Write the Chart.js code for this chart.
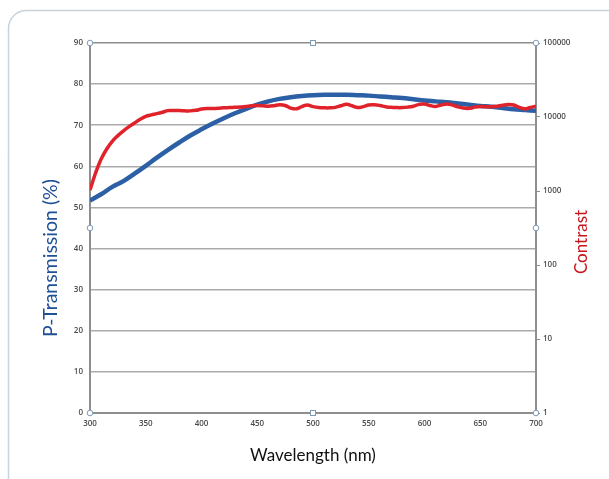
<!DOCTYPE html>
<html>
<head>
<meta charset="utf-8">
<script src="https://cdn.jsdelivr.net/npm/chart.js@4/dist/chart.umd.min.js"></script>
<style>
  html, body { margin: 0; padding: 0; background: #ffffff; }
  #wrap { position: relative; width: 609px; height: 479px; overflow: hidden; }
  canvas { display: block; }
</style>
</head>
<body>
<div id="wrap"><canvas id="c" width="609" height="479"></canvas></div>
<script>
// Wavelength grid for the P-Transmission curve (nm)
const transWavelengths = [300,310,320,330,340,350,360,370,380,390,400,410,420,430,440,450,460,470,480,490,500,510,520,530,540,550,560,570,580,590,600,610,620,630,640,650,660,670,680,690,700];
// P-Transmission (%)
const transmission = [51.7,53.2,55.0,56.4,58.2,60.1,62.1,64.0,65.8,67.5,69.0,70.4,71.7,72.9,74.0,75.0,75.8,76.4,76.8,77.1,77.3,77.4,77.4,77.4,77.3,77.2,77.0,76.8,76.6,76.3,76.0,75.8,75.6,75.3,75.0,74.7,74.5,74.2,73.9,73.7,73.5];

// Wavelength grid for the contrast curve (nm)
const contrastWavelengths = [300,305,310,315,320,325,330,335,340,345,350,355,360,365,370,375,380,385,390,395,400,405,410,415,420,425,430,435,440,445,450,455,460,465,470,475,480,485,490,495,500,505,510,515,520,525,530,535,540,545,550,555,560,565,570,575,580,585,590,595,600,605,610,615,620,625,630,635,640,645,650,655,660,665,670,675,680,685,690,695,700];
// Contrast ratio (log axis)
const contrast = [1030,1750,2700,3700,4700,5600,6500,7400,8300,9300,10200,10700,11100,11600,12200,12200,12200,12100,12100,12300,12800,13000,13000,13100,13300,13400,13500,13600,13900,14200,14300,14200,14000,14200,14600,14300,13200,12900,13800,14500,13800,13400,13300,13300,13500,14200,14900,14200,13400,13800,14500,14600,14300,13800,13500,13400,13400,13600,14000,14800,15000,14300,13900,14500,15000,14500,13700,13200,13100,13600,13900,13800,13800,14000,14400,14700,14500,13500,12900,13500,14000];

// Axis tick values / labels
const xTicks = [300,350,400,450,500,550,600,650,700];
const leftTicks = [0,10,20,30,40,50,60,70,80,90];
const rightTicks = [1,10,100,1000,10000,100000];
const rightTickLabels = ['1','10','100','1000','10000','100000'];

const xTitle = 'Wavelength (nm)';
const leftTitle = 'P-Transmission (%)';
const rightTitle = 'Contrast';

const transPoints = transWavelengths.map((w, i) => ({ x: w, y: transmission[i] }));
const contrastPoints = contrastWavelengths.map((w, i) => ({ x: w, y: contrast[i] }));

const tickFont = { family: 'Open Sans', size: 8, weight: '600' };
const tickColor = '#4a4a4a';
const axisGray = '#8e8e8e';

// Background card + selection handles + axis titles (rotated)
const decor = {
  id: 'decor',
  beforeDraw(chart) {
    const ctx = chart.ctx;
    ctx.save();
    ctx.fillStyle = '#ffffff';
    ctx.fillRect(0, 0, chart.width, chart.height);
    ctx.strokeStyle = '#c9d3dc';
    ctx.lineWidth = 1.5;
    ctx.beginPath();
    ctx.roundRect(8.5, 10.5, 640, 520, 18);
    ctx.stroke();
    ctx.restore();
  },
  afterDraw(chart) {
    const ctx = chart.ctx;
    const a = chart.chartArea;
    const mx = (a.left + a.right) / 2, my = (a.top + a.bottom) / 2;
    ctx.save();
    ctx.strokeStyle = '#7f9bb5';
    ctx.fillStyle = '#ffffff';
    ctx.lineWidth = 1;
    const circ = [[a.left, a.top], [a.right, a.top], [a.left, a.bottom], [a.right, a.bottom], [a.left, my], [a.right, my]];
    circ.forEach(([x, y]) => { ctx.beginPath(); ctx.arc(x, y, 2.8, 0, Math.PI * 2); ctx.fill(); ctx.stroke(); });
    [[mx, a.top], [mx, a.bottom]].forEach(([x, y]) => { ctx.fillRect(x - 2.5, y - 2.5, 5, 5); ctx.strokeRect(x - 2.5, y - 2.5, 5, 5); });
    ctx.restore();

    ctx.save();
    ctx.textAlign = 'center';
    ctx.textBaseline = 'middle';
    // Left axis title
    ctx.save();
    ctx.translate(51, 258);
    ctx.rotate(-Math.PI / 2);
    ctx.fillStyle = '#1f4f95';
    ctx.font = '19.5px Lato';
    ctx.fillText(leftTitle, 0, 0);
    ctx.restore();
    // Right axis title
    ctx.save();
    ctx.translate(582, 242);
    ctx.rotate(-Math.PI / 2);
    ctx.fillStyle = '#c8161d';
    ctx.font = '17px Lato';
    ctx.fillText(rightTitle, 0, 0);
    ctx.restore();
    ctx.restore();
  }
};

new Chart(document.getElementById('c'), {
  type: 'line',
  data: {
    datasets: [
      {
        label: 'Contrast',
        data: contrastPoints,
        yAxisID: 'y2',
        borderColor: '#e0232a',
        borderWidth: 3.5,
        pointRadius: 0,
        tension: 0.4,
        fill: false,
        order: 0
      },
      {
        label: 'P-Transmission',
        data: transPoints,
        yAxisID: 'y',
        borderColor: '#2b5fa6',
        borderWidth: 4.5,
        pointRadius: 0,
        tension: 0.4,
        fill: false,
        order: 1
      }
    ]
  },
  options: {
    responsive: false,
    animation: false,
    layout: { padding: { top: 43, left: 0, right: 0, bottom: 0 } },
    plugins: { legend: { display: false }, tooltip: { enabled: false } },
    scales: {
      x: {
        type: 'linear',
        min: 300, max: 700,
        afterFit: s => { s.height = 66; },
        afterBuildTicks: s => { s.ticks = xTicks.map(v => ({ value: v })); },
        grid: { display: false, drawTicks: false },
        border: { display: true, color: axisGray, width: 2 },
        ticks: { font: tickFont, color: tickColor, padding: 6, maxRotation: 0, autoSkip: false },
        title: { display: true, text: xTitle, color: '#111111', font: { family: 'Lato', size: 17 }, padding: { top: 0, bottom: 13 } }
      },
      y: {
        position: 'left',
        min: 0, max: 90,
        afterFit: s => { s.width = 90; },
        afterBuildTicks: s => { s.ticks = leftTicks.map(v => ({ value: v })); },
        grid: {
          drawTicks: false,
          color: ctx => (ctx.tick && ctx.tick.value === 90) ? axisGray : '#ababab',
          lineWidth: 1.6
        },
        border: { display: true, color: axisGray, width: 2 },
        ticks: { font: tickFont, color: tickColor, padding: 7 },
        title: { display: false }
      },
      y2: {
        type: 'logarithmic',
        position: 'right',
        min: 1, max: 100000,
        afterFit: s => { s.width = 73; },
        afterBuildTicks: s => { s.ticks = rightTicks.map(v => ({ value: v })); },
        grid: { drawOnChartArea: false, drawTicks: true, tickLength: 4, color: axisGray, lineWidth: 1 },
        border: { display: true, color: axisGray, width: 2 },
        ticks: {
          font: tickFont, color: tickColor, padding: 3,
          callback: (v) => { const i = rightTicks.indexOf(v); return i >= 0 ? rightTickLabels[i] : ''; }
        },
        title: { display: false }
      }
    }
  },
  plugins: [decor]
});
</script>
</body>
</html>
